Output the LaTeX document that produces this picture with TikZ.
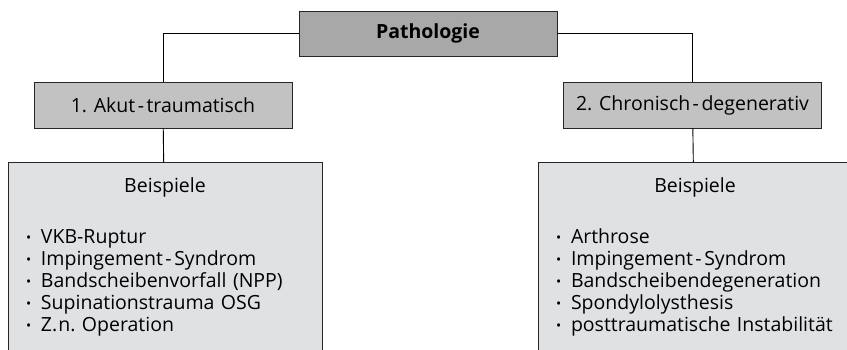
\documentclass[tikz,border=0pt]{standalone}
\usepackage{fontspec}
\setmainfont{Open Sans}
\usetikzlibrary{positioning}
\definecolor{kopfgrau}{HTML}{A8A8A8}
\definecolor{stufegrau}{HTML}{C2C2C2}
\definecolor{bspgrau}{HTML}{E0E1E3}
\newcommand{\schrift}{\fontsize{19.5}{22}\selectfont}
\newcommand{\strich}{\kern2.5pt-\kern2.5pt}
\tikzstyle{kopf} = [rectangle,draw=black!85,fill=kopfgrau,minimum width=258pt,minimum height=45pt,font=\schrift\bfseries]
\tikzstyle{stufe} = [rectangle,draw=black!85,fill=stufegrau,minimum width=258pt,minimum height=46pt]
\tikzstyle{bsp} = [rectangle,draw=black!85,fill=bspgrau,text width=278pt,inner xsep=18pt,inner ysep=15pt]
\newcommand{\bul}{\makebox[15pt][l]{\raisebox{0.6pt}{\scalebox{0.7}{\textbullet}}}}

\begin{document}
\begin{tikzpicture}[x=1pt,y=1pt,font=\schrift]
	\useasboundingbox (0,0) rectangle (847,350);
	\clip (0,0) rectangle (847,350);
	\begin{scope}[node distance=34pt,line width=0.9pt]
		\node[kopf] (patho) at (428,316.5) {Pathologie};
		\node[stufe] (akut) at (163,245) {1. Akut\strich traumatisch};
		\node[stufe] (chron) at (692.5,245) {2. Chronisch\strich degenerativ};
		\draw (patho.west) -| (akut.north);
		\draw (patho.east) -| (chron.north);
		
		\node[bsp] (bsp1) [below=of akut,xshift=2pt] {{\centering Beispiele\par}\vspace{28.5pt}
			\bul VKB-Ruptur\\
			\bul Impingement\strich Syndrom\\
			\bul Bandscheibenvorfall (NPP)\\
			\bul Supinationstrauma OSG\\
			\bul Z.\kern1pt n.\ Operation\par\vspace*{30pt}\null};
		\draw (akut) -- (bsp1);
		
		\node[bsp] (bsp2) [below=of chron,xshift=2.5pt] {{\centering Beispiele\par}\vspace{28.5pt}
			\bul Arthrose\\
			\bul Impingement\strich Syndrom\\
			\bul Bandscheibendegeneration\\
			\bul Spondylolysthesis\\
			\bul posttraumatische Instabilität\par\vspace*{30pt}\null};
		\draw (chron) -- (bsp2);
	\end{scope}
\end{tikzpicture}
\end{document}
